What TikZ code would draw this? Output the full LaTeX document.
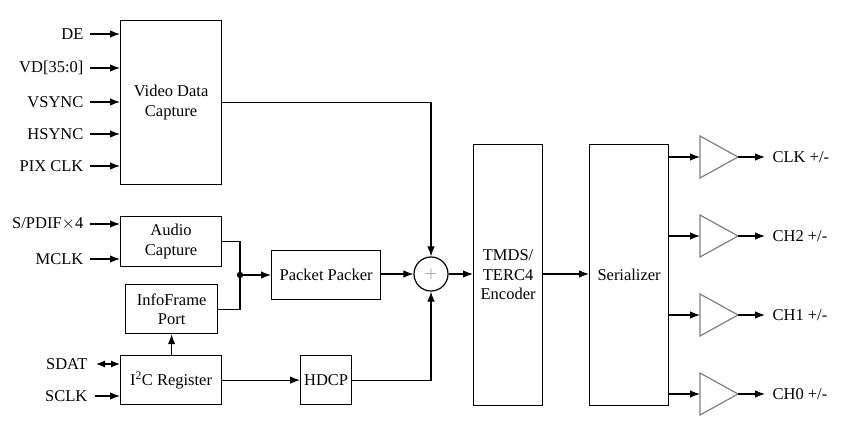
\documentclass[tikz,border=0pt]{standalone}
\usepackage{fontspec}
\setmainfont{Liberation Serif}
\usetikzlibrary{arrows.meta}
\begin{document}
\begin{tikzpicture}[x=1pt,y=-1pt,
  line width=1.2pt,
  font=\fontsize{16.5}{19.5}\selectfont,
  box/.style={draw, align=center, inner sep=0pt, anchor=north west},
  arr/.style={-{Latex[length=10pt,width=7.5pt]}},
  darr/.style={{Latex[length=9pt,width=7pt]}-{Latex[length=9pt,width=7pt]}},
  lbl/.style={anchor=east, inner sep=0pt},
  olbl/.style={anchor=west, inner sep=0pt},
  buf/.style={draw=gray, line width=1.2pt}]
\useasboundingbox (0,0) rectangle (858,430);
% boxes
\node[box, minimum width=101pt, minimum height=164pt] (vdc) at (120,20) {Video Data\\Capture};
\node[box, minimum width=101pt, minimum height=50pt] (ac) at (120,216) {Audio\\Capture};
\node[box, minimum width=92pt, minimum height=49pt] (ifp) at (125,284) {InfoFrame\\Port};
\node[box, minimum width=101pt, minimum height=49pt] (i2c) at (120,355) {I\textsuperscript{2}C Register};
\node[box, minimum width=109pt, minimum height=49pt] (pp) at (271,250) {Packet Packer};
\node[box, minimum width=51pt, minimum height=49pt] (hdcp) at (300,355) {HDCP};
\node[box, minimum width=69pt, minimum height=261pt] (tmds) at (473,144) {TMDS/\\TERC4\\Encoder};
\node[box, minimum width=79pt, minimum height=261pt] (ser) at (589,144) {Serializer};
\node[draw, circle, minimum size=34pt, inner sep=0pt] (sum) at (431,274) {\textcolor{gray}{$+$}};
% video inputs
\foreach \name/\txt/\yy in {de/DE/34, vd/{VD[35:0]}/68, vs/VSYNC/102, hs/HSYNC/134, pc/PIX CLK/166}{
  \node[lbl] (\name) at (84,\yy) {\txt};
  \coordinate (\name a) at (90,\yy);
  \draw[arr] (\name a) -- (\name a -| vdc.west);
}
% audio inputs
\node[lbl] (spdif) at (84,224) {S/PDIF$\times$4};
\coordinate (spdifa) at (90,224);
\draw[arr] (spdifa) -- (spdifa -| ac.west);
\node[lbl] (mclk) at (84,259) {MCLK};
\coordinate (mclka) at (90,259);
\draw[arr] (mclka) -- (mclka -| ac.west);
% i2c inputs
\node[lbl] (sdat) at (88,364) {SDAT};
\coordinate (sdata) at (96,364);
\draw[darr] (sdata) -- (sdata -| i2c.west);
\node[lbl] (sclk) at (88,396) {SCLK};
\coordinate (sclka) at (95,396);
\draw[arr] (sclka) -- (sclka -| i2c.west);
% internal connections
\coordinate (j) at (240,275);
\draw (ac.east) -| (j);
\draw (ifp.east) -| (j);
\fill (j) circle (3.2pt);
\draw[arr] (j) -- (j -| pp.west);
\draw[arr] (ifp.south |- i2c.north) -- (ifp.south);
\draw[arr] (vdc.east) -| (sum.north);
\draw[arr] (pp.east |- sum.west) -- (sum.west);
\draw[arr] (i2c.east) -- (hdcp.west);
\draw[arr] (hdcp.east) -| (sum.south);
\draw[arr] (sum.east) -- (sum.east -| tmds.west);
\draw[arr] (tmds.east |- sum.east) -- (ser.west |- sum.east);
% output buffers
\foreach \name/\txt/\yy in {clk/{CLK +/-}/157, ch2/{CH2 +/-}/236, ch1/{CH1 +/-}/315, ch0/{CH0 +/-}/394}{
  \coordinate (\name in) at (700,\yy);
  \coordinate (\name out) at (738,\yy);
  \coordinate (\name end) at (765,\yy);
  \draw[buf] (700,\yy-21) -- (738,\yy) -- (700,\yy+21) -- cycle;
  \draw[arr] (ser.east |- \name in) -- (\name in);
  \node[olbl] (\name) at (772,\yy) {\txt};
  \draw[arr] (\name out) -- (\name end);
}
\end{tikzpicture}
\end{document}
